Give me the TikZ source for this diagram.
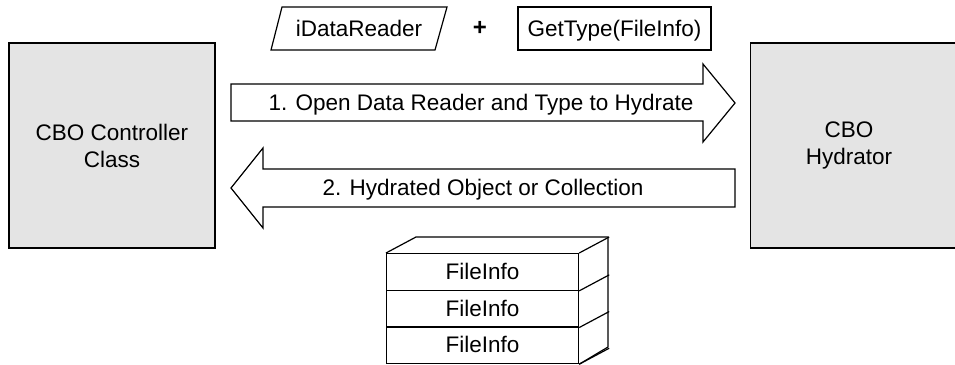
\documentclass[tikz,border=0pt]{standalone}
\usepackage{fontspec}
\setmainfont{Liberation Sans}
\usetikzlibrary{positioning}
\definecolor{klasasiva}{RGB}{228,228,228}
\tikzset{
  klasa/.style={draw=black, fill=klasasiva, minimum width=206pt, minimum height=205pt,
    inner sep=0pt, align=center},
  natpis/.style={inner sep=0pt, text height=15pt, text depth=0pt},
  fajl/.style={draw=black, natpis, minimum width=192pt, minimum height=36.67pt, anchor=north west},
}

\begin{document}
\begin{tikzpicture}[x=1pt, y=-1pt, line width=1.2pt, font=\fontsize{22.5}{27}\selectfont]
    \useasboundingbox (0,0) rectangle (955,364);
    % kontroler levo, hidrator desno (desni odsecen ivicom slike)
    \node [klasa] (kontroler) at (112,145.5) {CBO Controller\\Class};
    \node [klasa, minimum width=216pt, anchor=west] (hidrator) at (750,145.5) {};
    \node [align=center, inner sep=0pt] (hidratornatpis) at (849,145.5) {CBO\\Hydrator};
    % ulaz: citac i tip
    \draw [draw=black] (271,50) -- (282,7) -- (447,7) -- (435,50) -- cycle;
    \node [natpis] (citac) at (359,28.5) {iDataReader};
    \node [font=\fontsize{24}{28}\selectfont\bfseries] (plus) at (480,28) {+};
    \node [draw=black, natpis, minimum width=193pt, minimum height=43pt] (tip) at (614.5,28.5)
        {GetType(FileInfo)};
    % strelica 1, ka hidratoru
    \draw [draw=black] (231,84) -- (703,84) -- (703,64) -- (735,103) -- (703,142)
        -- (703,121) -- (231,121) -- cycle;
    \node [natpis] (korak1) at (481,102.5) {1. Open Data Reader and Type to Hydrate};
    % strelica 2, nazad ka kontroleru
    \draw [draw=black] (735,169) -- (263,169) -- (263,148) -- (231,188) -- (263,228)
        -- (263,207) -- (735,207) -- cycle;
    \node [natpis] (korak2) at (483,188) {2. Hydrated Object or Collection};
    % kolekcija, tri reda
    \foreach \i in {0,1,2}{
        \node [fajl] (fajl\i) at (386,{253+36.67*\i}) {FileInfo};
        \draw (fajl\i.south east) -- ++(30,-16);
    }
    \draw (fajl0.north west) -- ++(30,-16) -- ++(192,0) -- ++(0,110) -- (fajl2.south east);
    \draw (fajl0.north east) -- ++(30,-16);
\end{tikzpicture}
\end{document}
